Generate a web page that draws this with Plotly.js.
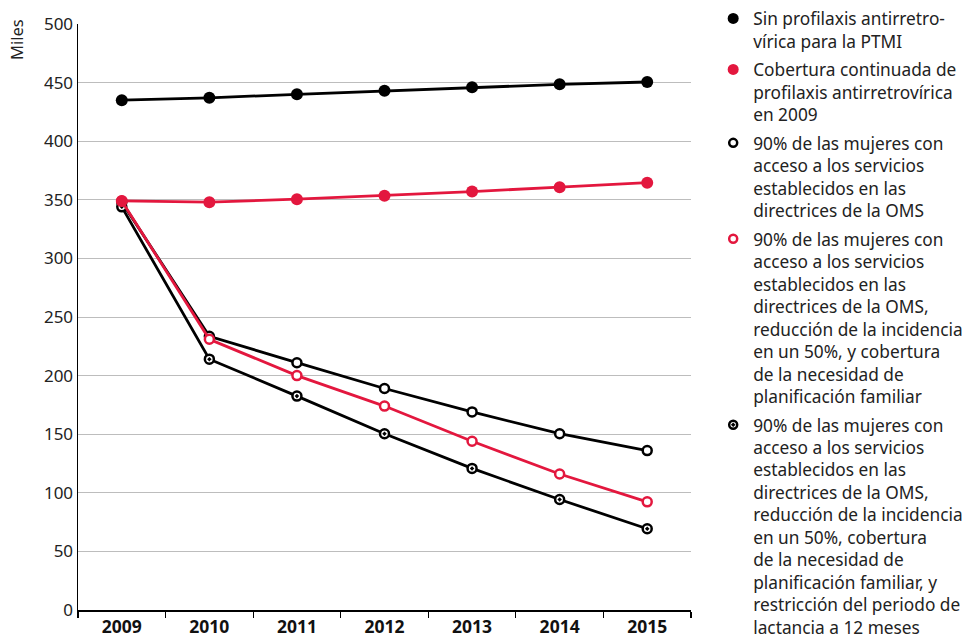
<!DOCTYPE html>
<html>
<head>
<meta charset="utf-8">
<script src="https://cdn.plot.ly/plotly-3.0.1.min.js"></script>
<style>html,body{margin:0;padding:0;background:#fff;}#chart{width:976px;height:643px;}</style>
</head>
<body>
<div id="chart"></div>
<script>
var years = ['2009','2010','2011','2012','2013','2014','2015'];
var sinProfilaxis = [435, 437, 440, 443, 446, 448.5, 450.5];
var coberturaContinuada = [349, 348, 350.5, 353.5, 357, 360.8, 364.6];
var oms90 = [348, 233.6, 211, 189, 169, 150.4, 136];
var omsIncidencia = [349, 231, 200, 174, 144, 116, 92.3];
var omsLactancia = [344, 214, 182.5, 150.4, 120.8, 94.3, 69.3];
var yTicks = [0, 50, 100, 150, 200, 250, 300, 350, 400, 450, 500];

var names = [
  'Sin profilaxis antirretro-<br>vírica para la PTMI',
  'Cobertura continuada de<br>profilaxis antirretrovírica<br>en 2009',
  '90% de las mujeres con<br>acceso a los servicios<br>establecidos en las<br>directrices de la OMS',
  '90% de las mujeres con<br>acceso a los servicios<br>establecidos en las<br>directrices de la OMS,<br>reducción de la incidencia<br>en un 50%, y cobertura<br>de la necesidad de<br>planificación familiar',
  '90% de las mujeres con<br>acceso a los servicios<br>establecidos en las<br>directrices de la OMS,<br>reducción de la incidencia<br>en un 50%, cobertura<br>de la necesidad de<br>planificación familiar, y<br>restricción del periodo de<br>lactancia a 12 meses'
];

var BLACK = '#000000';
var RED = '#e3173e';
var FONT = '"Noto Sans", "Open Sans", sans-serif';

var filledBlack = {color: BLACK, size: 12};
var filledRed = {color: RED, size: 12};
var openBlack = {symbol: 'circle', color: '#ffffff', size: 9, line: {color: BLACK, width: 2.5}};
var openRed = {symbol: 'circle', color: '#ffffff', size: 9, line: {color: RED, width: 2.5}};
var dotBlack = {symbol: 'circle-dot', color: '#ffffff', size: 9, line: {color: BLACK, width: 2.5}};

var series = [
  {y: sinProfilaxis, color: BLACK, marker: filledBlack},
  {y: oms90, color: BLACK, marker: openBlack},
  {y: omsLactancia, color: BLACK, marker: dotBlack},
  {y: omsIncidencia, color: RED, marker: openRed},
  {y: coberturaContinuada, color: RED, marker: filledRed}
];

var traces = series.map(function(s){
  return {
    x: years, y: s.y, type: 'scatter', mode: 'lines+markers',
    line: {color: s.color, width: 2.8},
    marker: s.marker, showlegend: false, cliponaxis: false, hoverinfo: 'skip'
  };
});

var legendMarkers = [filledBlack, filledRed, openBlack, openRed, dotBlack];
names.forEach(function(n, i){
  var m = JSON.parse(JSON.stringify(legendMarkers[i]));
  m.size = (i < 2) ? 11 : 8;
  traces.push({
    x: [null], y: [null], type: 'scatter', mode: 'markers',
    name: n, marker: m, showlegend: true, legendgroup: 'g' + i
  });
});

var layout = {
  width: 976, height: 643,
  margin: {l: 78, r: 285, t: 24, b: 33, autoexpand: false},
  paper_bgcolor: '#ffffff', plot_bgcolor: '#ffffff',
  font: {family: FONT, size: 17, color: '#222222'},
  showlegend: true,
  legend: {
    x: 1.0362, xanchor: 'left', y: 1.0398, yanchor: 'top',
    valign: 'top', tracegroupgap: 3, itemwidth: 30, maxheight: 700,
    font: {family: FONT, size: 17.3, color: '#222222'},
    bgcolor: 'rgba(0,0,0,0)'
  },
  xaxis: {
    type: 'category', categoryorder: 'array', categoryarray: years,
    range: [-0.5, 6.5],
    tickson: 'boundaries', ticks: 'outside', ticklen: 6, tickcolor: '#000', tickwidth: 1.2,
    showline: true, linecolor: '#000', linewidth: 1.5,
    showgrid: false, zeroline: false,
    tickfont: {family: FONT, size: 17.5, color: '#111', weight: 'bold'}
  },
  yaxis: {
    range: [0, 500], tickmode: 'array', tickvals: yTicks, ticktext: yTicks.map(String),
    showline: true, linecolor: '#000', linewidth: 1.5,
    ticks: '', showgrid: true, gridcolor: '#bdbdbd', gridwidth: 1,
    zeroline: false,
    tickfont: {family: FONT, size: 17, color: '#222'}
  },
  annotations: [{
    text: 'Miles', xref: 'paper', yref: 'paper',
    x: -0.0995, y: 0.9727, xanchor: 'center', yanchor: 'middle',
    textangle: -90, showarrow: false,
    font: {family: FONT, size: 16.5, color: '#222'}
  }]
};

Plotly.newPlot('chart', traces, layout, {staticPlot: true, displayModeBar: false});
</script>
</body>
</html>
